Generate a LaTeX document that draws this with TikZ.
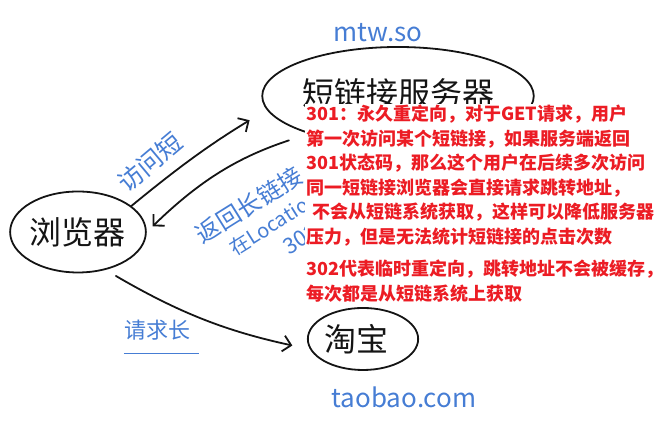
\documentclass[tikz,border=0pt]{standalone}
\usepackage{fontspec}
\newfontfamily\cjk{Noto Sans CJK SC}
\usetikzlibrary{positioning}
\usetikzlibrary{shapes.geometric}
\usetikzlibrary{arrows.meta}
\definecolor{pen}{RGB}{20,20,20}
\definecolor{blueink}{RGB}{70,125,212}
\definecolor{redtxt}{RGB}{236,28,36}

\begin{document}
\begin{tikzpicture}[x=1pt, y=1pt,
    bubble/.style={ellipse, draw=pen, line width=1.8pt, inner sep=0pt, text=pen, font=\cjk\fontsize{32}{32}\selectfont},
    note/.style={text=blueink, inner sep=0pt, font=\cjk\fontsize{22}{22}\selectfont},
    site/.style={text=blueink, inner sep=0pt, font=\cjk\fontsize{26}{26}\selectfont},
    pencil/.style={draw=pen, line width=1.8pt, line cap=round, -{Straight Barb[length=8pt,width=16pt,line width=1.8pt]}},
    memo/.style={text=redtxt, fill=white, inner sep=1pt, align=left, font=\cjk\bfseries\fontsize{18}{24.5}\selectfont}]

    \useasboundingbox (0,0) rectangle (665,430);

    % the three parties
    \node[bubble, minimum width=133pt, minimum height=81pt] (browser) at (78,198) {浏览器};
    \node[bubble, minimum width=250pt, minimum height=98pt] (server) at (398,334) {\raisebox{7pt}{短链接服务器}};
    \node[bubble, minimum width=100pt, minimum height=62pt] (taobao) at (363,91) {\raisebox{3pt}{淘宝\kern14pt}};

    \node[site] (shorthost) at (378,397) {mtw.so};
    \node[site] (longhost) at (404,33) {taobao.com};

    % requests and replies
    \draw[pencil, shorten >=20pt] (browser.26) to[bend left=4] (server.186);
    \draw[pencil, shorten <=21pt, shorten >=8pt] (server.203) to[bend right=13] (browser.0);
    \draw[pencil, shorten <=12pt, shorten >=18pt] (browser.-54) to[bend right=9] (taobao.191);

    \node[note, rotate=40, font=\cjk\fontsize{25}{25}\selectfont] (askshort) at (150,268) {访问短};
    \node[note, rotate=32, font=\cjk\fontsize{24}{24}\selectfont] (givelong) at (249,225) {返回长链接};
    \node[note, rotate=32, font=\cjk\fontsize{20}{20}\selectfont] (inloc) at (274,207) {在Location};
    \node[note, rotate=32] (code) at (301,191) {302};
    \node[note] (asklong) at (157,100) {请求长};
    \draw[blueink, line width=1.2pt] ([yshift=-13pt]asklong.south west) -- ([xshift=9pt,yshift=-13pt]asklong.south east);

    % explanation
    \node[memo, anchor=north west] (explain) at (305,326) {301：永久重定向，对于GET请求，用户\\
        第一次访问某个短链接，如果服务端返回\\
        301状态码，那么这个用户在后续多次访问\\
        同一短链接浏览器会直接请求跳转地址，\\
        \hspace*{6pt}不会从短链系统获取，这样可以降低服务器\\
        压力，但是无法统计短链接的点击次数\\[8pt]
        302代表临时重定向，跳转地址不会被缓存，\\
        每次都是从短链系统上获取};
\end{tikzpicture}
\end{document}
